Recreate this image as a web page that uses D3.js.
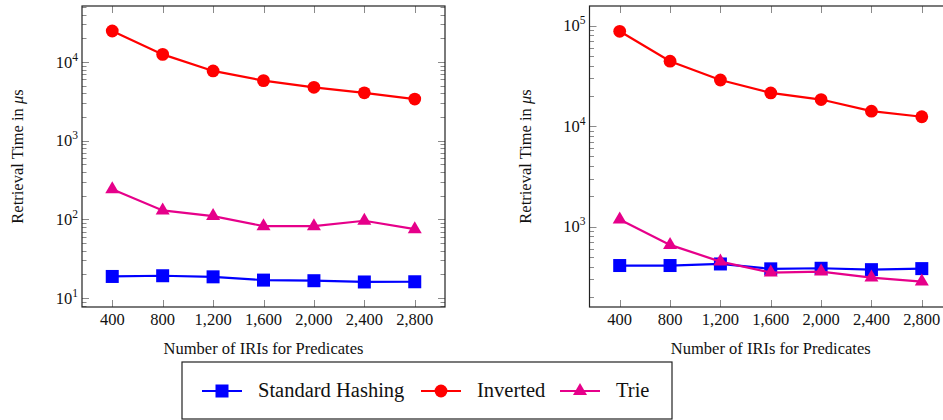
<!DOCTYPE html>
<html>
<head>
<style>
  body { margin: 0; background: #fff; }
</style>
<script src="https://d3js.org/d3.v7.min.js"></script>
</head>
<body>
<svg id="chart" width="943" height="420"></svg>
<script>
// x values (number of IRIs)
const iris = [400, 800, 1200, 1600, 2000, 2400, 2800];
const xTickLabels = ["400", "800", "1,200", "1,600", "2,000", "2,400", "2,800"];

// left plot
const hashingLeft  = [18.8, 19.2, 18.6, 16.9, 16.6, 16.0, 16.1];
const invertedLeft = [24800, 12500, 7700, 5800, 4770, 4060, 3380];
const trieLeft     = [242, 130, 110, 82, 82, 96, 75];

// right plot
const hashingRight  = [410, 410, 425, 380, 385, 373, 382];
const invertedRight = [87900, 44300, 28800, 21400, 18400, 14100, 12400];
const trieRight     = [1180, 658, 449, 349, 357, 311, 284];

const seriesNames = ["Standard Hashing", "Inverted", "Trie"];
const seriesColors = ["#0000ff", "#ff0000", "#e6008a"];
const seriesMarks = ["square", "circle", "triangle"];

const FONT = "'Liberation Serif', 'Times New Roman', Times, serif";
const svg = d3.select("#chart");

function addText(g, x, y, size) {
  return g.append("text").attr("x", x).attr("y", y)
    .style("font-family", FONT).style("font-size", size + "px").attr("fill", "#111");
}

function drawMarker(g, kind, x, y, color) {
  if (kind === "square") {
    g.append("rect").attr("x", x - 6.5).attr("y", y - 6.5)
      .attr("width", 13).attr("height", 13).attr("fill", color);
  } else if (kind === "circle") {
    g.append("circle").attr("cx", x).attr("cy", y).attr("r", 6.4).attr("fill", color);
  } else {
    g.append("path")
      .attr("d", "M" + x + "," + (y - 8) + "L" + (x + 7) + "," + (y + 4) + "L" + (x - 7) + "," + (y + 4) + "Z")
      .attr("fill", color);
  }
}

function drawPlot(box, yDomain, yMajors, seriesData) {
  const x = d3.scaleLinear().domain([160, 3040]).range([box.left, box.right]);
  const y = d3.scaleLog().domain(yDomain).range([box.bottom, box.top]);

  const g = svg.append("g");

  // minor ticks for log axis
  const minors = [];
  const lo = Math.floor(Math.log10(yDomain[0])), hi = Math.ceil(Math.log10(yDomain[1]));
  for (let e = lo; e <= hi; e++) {
    for (let m = 2; m <= 9; m++) {
      const v = m * Math.pow(10, e);
      if (v > yDomain[0] && v < yDomain[1]) minors.push(v);
    }
  }

  const ticks = g.append("g").attr("stroke", "#8a8a8a").attr("stroke-width", 1);
  minors.forEach(v => {
    const yy = Math.round(y(v)) + 0.5;
    ticks.append("line").attr("x1", box.left).attr("x2", box.left + 4.5).attr("y1", yy).attr("y2", yy);
    ticks.append("line").attr("x1", box.right).attr("x2", box.right - 4.5).attr("y1", yy).attr("y2", yy);
  });
  yMajors.forEach(v => {
    const yy = Math.round(y(v)) + 0.5;
    ticks.append("line").attr("x1", box.left).attr("x2", box.left + 7).attr("y1", yy).attr("y2", yy);
    ticks.append("line").attr("x1", box.right).attr("x2", box.right - 7).attr("y1", yy).attr("y2", yy);
  });
  iris.forEach(v => {
    const xx = Math.round(x(v)) + 0.5;
    ticks.append("line").attr("x1", xx).attr("x2", xx).attr("y1", box.bottom).attr("y2", box.bottom - 7);
    ticks.append("line").attr("x1", xx).attr("x2", xx).attr("y1", box.top).attr("y2", box.top + 7);
  });

  // frame
  g.append("rect")
    .attr("x", box.left).attr("y", box.top)
    .attr("width", box.right - box.left).attr("height", box.bottom - box.top)
    .attr("fill", "none").attr("stroke", "#222").attr("stroke-width", 1.2);

  // y tick labels (10^n)
  yMajors.forEach(v => {
    const t = addText(g, box.left - 4, y(v) + 5.5, 16.5).attr("text-anchor", "end");
    t.append("tspan").text("10");
    t.append("tspan").attr("dy", -7).style("font-size", "11.5px").text(Math.round(Math.log10(v)));
  });

  // x tick labels
  iris.forEach((v, i) => {
    addText(g, x(v), box.bottom + 18, 16.5).attr("text-anchor", "middle").text(xTickLabels[i]);
  });

  // axis titles
  addText(g, (box.left + box.right) / 2, box.bottom + 47, 16.5)
    .attr("text-anchor", "middle").text("Number of IRIs for Predicates");

  const yl = addText(g, 0, 0, 16.5)
    .attr("transform", "translate(" + (box.left - 59) + "," + ((box.top + box.bottom) / 2) + ") rotate(-90)")
    .attr("text-anchor", "middle");
  yl.append("tspan").text("Retrieval Time in ");
  yl.append("tspan").style("font-style", "italic").text("μ");
  yl.append("tspan").text("s");

  // series
  const line = d3.line().x((d, i) => x(iris[i])).y(d => y(d));
  seriesData.forEach((vals, s) => {
    const sg = g.append("g");
    sg.append("path").attr("d", line(vals)).attr("fill", "none")
      .attr("stroke", seriesColors[s]).attr("stroke-width", 2.2);
    vals.forEach((v, i) => drawMarker(sg, seriesMarks[s], x(iris[i]), y(v), seriesColors[s]));
  });
}

drawPlot({left: 82, right: 445, top: 6, bottom: 307},
  [Math.pow(10, 0.886), Math.pow(10, 4.712)], [10, 100, 1000, 10000],
  [hashingLeft, invertedLeft, trieLeft]);

drawPlot({left: 589.5, right: 952, top: 6, bottom: 307},
  [Math.pow(10, 2.2), Math.pow(10, 5.196)], [1000, 10000, 100000],
  [hashingRight, invertedRight, trieRight]);

// legend
const legend = svg.append("g");
legend.append("rect").attr("x", 182).attr("y", 362).attr("width", 490).attr("height", 57)
  .attr("fill", "#fff").attr("stroke", "#222").attr("stroke-width", 1.2);
const legendX = [202, 421, 560];
seriesNames.forEach((name, s) => {
  const lx = legendX[s], ly = 391;
  legend.append("line").attr("x1", lx).attr("x2", lx + 40).attr("y1", ly).attr("y2", ly)
    .attr("stroke", seriesColors[s]).attr("stroke-width", 2.2);
  drawMarker(legend, seriesMarks[s], lx + 20, ly, seriesColors[s]);
  addText(legend, lx + 56, ly + 6, 20.5).text(name);
});
</script>
</body>
</html>
